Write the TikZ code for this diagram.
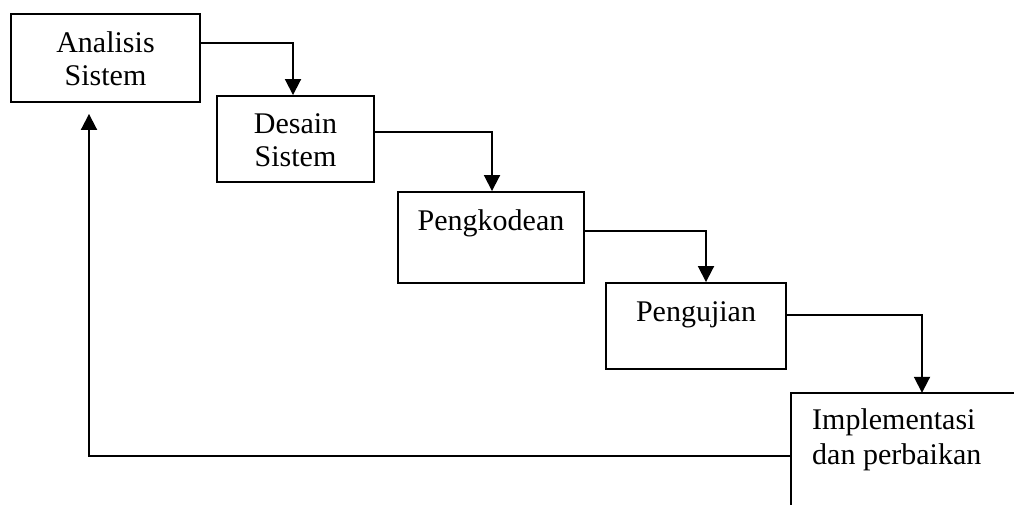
\documentclass[tikz,border=0pt]{standalone}
\usepackage{fontspec}
\setmainfont{Liberation Serif}
\usetikzlibrary{arrows.meta}
\begin{document}
\begin{tikzpicture}[x=1pt,y=-1pt,
  box/.style={draw, line width=1.9pt, inner sep=0pt, minimum width=#1},
  txt/.style={anchor=base, inner sep=0pt, font=\fontsize{30}{33}\selectfont},
  arr/.style={line width=1.9pt, -{Triangle[length=16pt,width=16pt]}}]
\useasboundingbox (0,0) rectangle (1014,505);
% boxes
\node[box=189pt, minimum height=88pt] (a) at (105.5,58) {};
\node[box=157pt, minimum height=86pt] (b) at (295.5,139) {};
\node[box=186pt, minimum height=91pt] (c) at (491,237.5) {};
\node[box=180pt, minimum height=86pt] (d) at (696,326) {};
\node[inner sep=0pt, minimum width=223pt, minimum height=112pt] (e) at (902.5,449) {};
\draw[line width=1.9pt] (e.south west) -- (e.north west) -- (e.north east);
% texts
\node[txt] (a1) at (105.5,53) {Analisis};
\node[txt] (a2) at (105.5,86) {Sistem};
\node[txt] (b1) at (295.5,134) {Desain};
\node[txt] (b2) at (295.5,167) {Sistem};
\node[txt] (c1) at (491,230) {Pengkodean};
\node[txt] (d1) at (696,321) {Pengujian};
\node[txt, anchor=base west] (e1) at (812,429) {Implementasi};
\node[txt, anchor=base west] (e2) at (812,464) {dan perbaikan};
% connectors
\draw[arr] ([yshift=15pt]a.east) -| ([xshift=-2.5pt]b.north);
\draw[arr] ([yshift=7pt]b.east) -| ([xshift=1pt]c.north);
\draw[arr] ([yshift=6.5pt]c.east) -| ([xshift=10pt]d.north);
\draw[arr] ([yshift=11pt]d.east) -| ([xshift=19.5pt]e.north);
\draw[arr, shorten >=11pt] ([yshift=-7pt]e.west) -| ([xshift=-16.5pt]a.south);
\end{tikzpicture}
\end{document}
